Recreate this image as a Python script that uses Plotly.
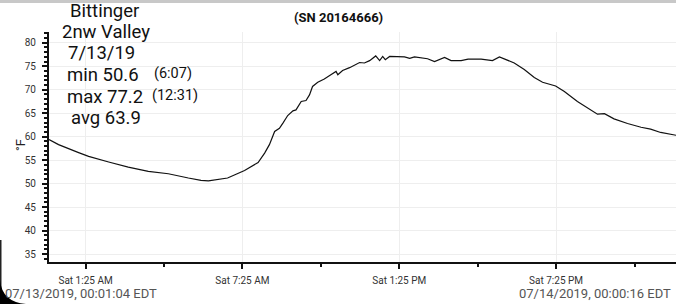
import plotly.graph_objects as go

# ---- data ----
times = [
    "2019-07-13 00:01:04", "2019-07-13 00:23", "2019-07-13 01:09", "2019-07-13 01:32",
    "2019-07-13 02:18", "2019-07-13 03:03", "2019-07-13 03:49", "2019-07-13 04:35",
    "2019-07-13 05:21", "2019-07-13 05:50", "2019-07-13 06:07", "2019-07-13 06:22",
    "2019-07-13 06:51", "2019-07-13 07:30", "2019-07-13 08:01", "2019-07-13 08:16",
    "2019-07-13 08:27", "2019-07-13 08:39", "2019-07-13 08:50", "2019-07-13 08:58",
    "2019-07-13 09:09", "2019-07-13 09:21", "2019-07-13 09:28", "2019-07-13 09:40",
    "2019-07-13 09:51", "2019-07-13 09:59", "2019-07-13 10:06", "2019-07-13 10:18",
    "2019-07-13 10:33", "2019-07-13 10:48", "2019-07-13 11:00", "2019-07-13 11:04",
    "2019-07-13 11:15", "2019-07-13 11:31", "2019-07-13 11:42", "2019-07-13 11:54",
    "2019-07-13 12:05", "2019-07-13 12:17", "2019-07-13 12:31", "2019-07-13 12:40",
    "2019-07-13 12:47", "2019-07-13 12:53", "2019-07-13 13:03", "2019-07-13 13:22",
    "2019-07-13 13:37", "2019-07-13 13:49", "2019-07-13 14:00", "2019-07-13 14:30",
    "2019-07-13 14:46", "2019-07-13 15:09", "2019-07-13 15:24", "2019-07-13 15:47",
    "2019-07-13 16:03", "2019-07-13 16:33", "2019-07-13 16:59", "2019-07-13 17:15",
    "2019-07-13 17:30", "2019-07-13 17:49", "2019-07-13 18:12", "2019-07-13 18:35",
    "2019-07-13 18:54", "2019-07-13 19:24", "2019-07-13 19:44", "2019-07-13 20:14",
    "2019-07-13 21:00", "2019-07-13 21:16", "2019-07-13 21:38", "2019-07-13 22:09",
    "2019-07-13 22:40", "2019-07-13 23:02", "2019-07-13 23:25", "2019-07-14 00:00:16",
]
temps_f = [
    59.4, 58.3, 56.6, 55.8,
    54.6, 53.5, 52.6, 52.1,
    51.2, 50.7, 50.6, 50.8,
    51.2, 52.8, 54.5, 56.5,
    58.3, 61.1, 61.8, 62.9,
    64.5, 65.5, 65.7, 67.5,
    67.7, 68.9, 70.7, 71.6,
    72.3, 73.2, 73.9, 73.2,
    74.1, 74.7, 75.3, 75.8,
    75.7, 76.2, 77.2, 76.2,
    77.1, 76.4, 77.1, 77.1,
    77.0, 76.7, 77.0, 76.6,
    76.0, 76.9, 76.2, 76.2,
    76.5, 76.5, 76.2, 77.0,
    76.4, 75.7, 74.3, 72.6,
    71.6, 70.8, 69.6, 67.5,
    64.8, 64.9, 63.8, 62.8,
    62.0, 61.6, 60.9, 60.3,
]
info_lines = ["Bittinger", "2nw Valley", "7/13/19"]
stat_labels = ["min 50.6", "max 77.2", "avg 63.9"]
stat_times = ["(6:07)", "(12:31)", ""]
title_text = "(SN 20164666)"
start_label = "07/13/2019, 00:01:04 EDT"
end_label = "07/14/2019, 00:00:16 EDT"

W, H = 676, 304
L, R, T, B = 49, 0, 32, 42
pw, ph = W - L - R, H - T - B


def px(x):
    return (x - L) / pw


def py(y):
    return (H - B - y) / ph


fig = go.Figure()
fig.add_trace(go.Scatter(x=times, y=temps_f, mode="lines",
                         line=dict(color="#111111", width=1.2),
                         hoverinfo="x+y", showlegend=False))

font = "Roboto, Arial, sans-serif"
ann = []
# info block
centers = [104, 106, 101]
ys = [11, 32, 53]
for txt, cx, yy in zip(info_lines, centers, ys):
    ann.append(dict(text=txt, x=px(cx), y=py(yy), xref="paper", yref="paper",
                    xanchor="center", yanchor="middle", showarrow=False,
                    font=dict(family=font, size=18.5, color="#111")))
stat_x = [65, 65, 69]
stat_y = [75, 97, 118]
time_x = [152, 150, 0]
for lab, tt, sx, sy, tx in zip(stat_labels, stat_times, stat_x, stat_y, time_x):
    ann.append(dict(text=lab, x=px(sx), y=py(sy), xref="paper", yref="paper",
                    xanchor="left", yanchor="middle", showarrow=False,
                    font=dict(family=font, size=18.5, color="#111")))
    if tt:
        ann.append(dict(text=tt, x=px(tx), y=py(sy - 1.5), xref="paper", yref="paper",
                        xanchor="left", yanchor="middle", showarrow=False,
                        font=dict(family=font, size=14.5, color="#111")))
ann.append(dict(text="<b>" + title_text + "</b>", x=px(338), y=py(18), xref="paper",
                yref="paper", xanchor="center", yanchor="middle", showarrow=False,
                font=dict(family=font, size=13, color="#111")))
ann.append(dict(text=start_label, x=px(3), y=py(293), xref="paper", yref="paper",
                xanchor="left", yanchor="middle", showarrow=False,
                font=dict(family=font, size=13, color="#555")))
ann.append(dict(text=end_label, x=px(673), y=py(293), xref="paper", yref="paper",
                xanchor="right", yanchor="middle", showarrow=False,
                font=dict(family=font, size=13, color="#555")))
ann.append(dict(text="°F", x=px(20), y=py(145), xref="paper", yref="paper",
                xanchor="center", yanchor="middle", showarrow=False, textangle=-90,
                font=dict(family=font, size=13, color="#222")))

shapes = [
    # top status-bar shadow
    dict(type="rect", xref="paper", yref="paper", x0=px(0), x1=px(W), y0=py(0), y1=py(3),
         fillcolor="#c8c8c8", line=dict(width=0), layer="above"),
    # left edge dark line
    dict(type="rect", xref="paper", yref="paper", x0=px(0), x1=px(1.5), y0=py(240), y1=py(304),
         fillcolor="#222", line=dict(width=0), layer="above"),
    # bottom-left rounded black corner
    dict(type="path", xref="paper", yref="paper",
         path=(f"M {px(0)} {py(280)} Q {px(2)} {py(302)} {px(26)} {py(304)} "
               f"L {px(0)} {py(304)} Z"),
         fillcolor="#000", line=dict(width=0), layer="above"),
]

fig.update_layout(
    width=W, height=H,
    margin=dict(l=L, r=R, t=T, b=B, pad=0),
    paper_bgcolor="white", plot_bgcolor="white",
    font=dict(family=font, size=10, color="#333"),
    annotations=ann, shapes=shapes,
    xaxis=dict(
        type="date",
        range=["2019-07-13 00:01:04", "2019-07-14 00:00:16"],
        tick0="2019-07-13 01:25", dtick=6 * 3600 * 1000,
        tickformat="%a %-I:%M %p",
        ticks="outside", ticklen=5, tickwidth=2, tickcolor="#111",
        showline=True, linecolor="#111", linewidth=2,
        showgrid=True, gridcolor="#eeeeee", gridwidth=1,
        zeroline=False, tickfont=dict(size=10, color="#333"),
        ticklabelstandoff=3,
        minor=dict(dtick=3 * 3600 * 1000, tick0="2019-07-13 01:25",
                   ticks="outside", ticklen=3, tickwidth=2, tickcolor="#111",
                   showgrid=False),
    ),
    yaxis=dict(
        range=[33.3, 82.3],
        tick0=35, dtick=5,
        ticks="outside", ticklen=5, tickwidth=1.5, tickcolor="#111",
        showline=True, linecolor="#111", linewidth=2,
        showgrid=True, gridcolor="#eeeeee", gridwidth=1,
        zeroline=False, tickfont=dict(size=10, color="#333"),
        ticklabelstandoff=4,
        minor=dict(dtick=1, ticks="outside", ticklen=3, tickwidth=1.5,
                   tickcolor="#111", showgrid=False),
    ),
)

fig.write_html("out.html")
